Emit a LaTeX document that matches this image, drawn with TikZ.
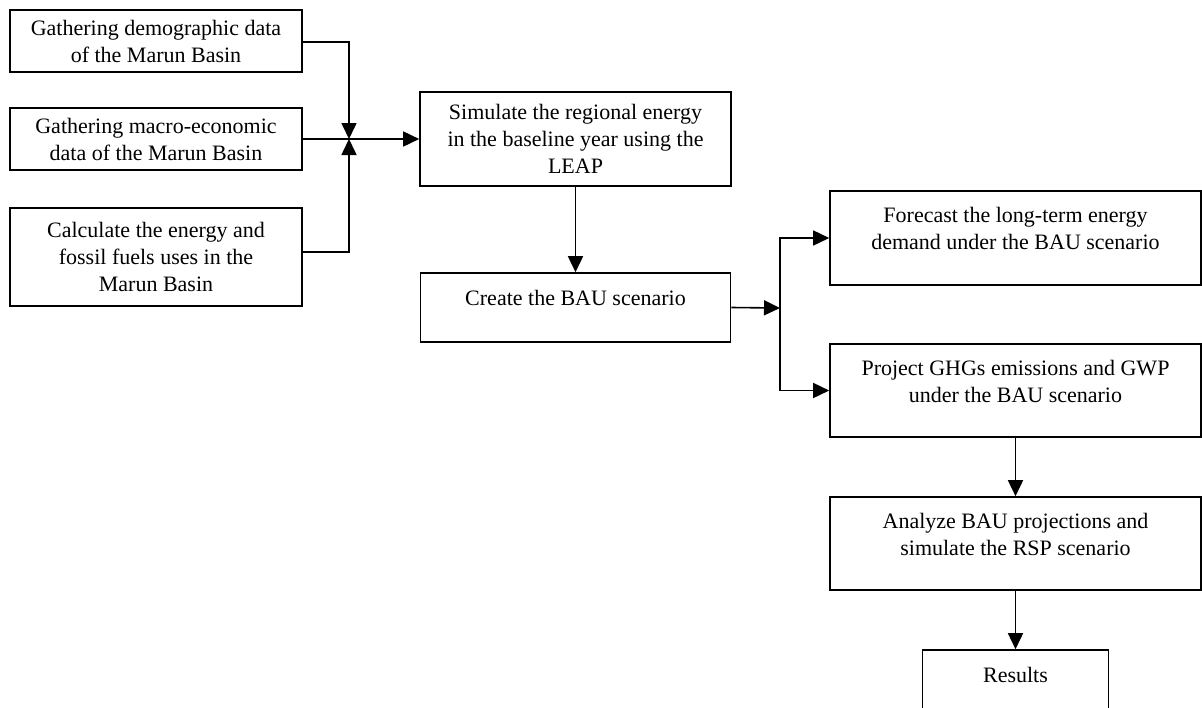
\documentclass[tikz,border=0pt]{standalone}
\usepackage{fontspec}
\setmainfont{Liberation Serif}
\usetikzlibrary{arrows.meta}
\newcommand{\liftup}[1]{\\[#1]\mbox{}}
\begin{document}
\begin{tikzpicture}[x=1pt,y=-1pt,
  box/.style={draw, line width=1.6pt, rectangle, align=center, inner sep=2pt,
    font=\fontsize{22}{27}\selectfont},
  conn/.style={line width=1.6pt},
  arr/.style={conn, -{Triangle[length=16pt,width=15pt]}}]
\useasboundingbox (0,0) rectangle (1202,707);
\clip (0,0) rectangle (1202,707);
\node[box, minimum width=292pt, minimum height=62pt] (A) at (156,41)
  {Gathering demographic data\\of the Marun Basin};
\node[box, minimum width=292pt, minimum height=62pt] (B) at (156,139)
  {Gathering macro-economic\\data of the Marun Basin};
\node[box, minimum width=292pt, minimum height=98pt] (C) at (156,257)
  {Calculate the energy and\\fossil fuels uses in the\\Marun Basin};
\node[box, minimum width=311pt, minimum height=94pt] (D) at (575.5,139)
  {Simulate the regional energy\\in the baseline year using the\\LEAP};
\node[box, minimum width=310pt, minimum height=69pt] (E) at (575.5,307.5)
  {Create the BAU scenario\liftup{-8pt}};
\node[box, minimum width=371pt, minimum height=94pt] (F) at (1015.5,238)
  {Forecast the long-term energy\\demand under the BAU scenario\liftup{-8pt}};
\node[box, minimum width=371pt, minimum height=93pt] (G) at (1015.5,390.5)
  {Project GHGs emissions and GWP\\under the BAU scenario\liftup{-8pt}};
\node[box, minimum width=371pt, minimum height=93pt] (H) at (1015.5,543.5)
  {Analyze BAU projections and\\simulate the RSP scenario\liftup{-8pt}};
\node[box, minimum width=186pt, minimum height=94pt] (R) at (1015.5,697)
  {Results\liftup{17pt}};
\coordinate (J) at (349,139);
\coordinate (K) at (780,308);
\draw[arr] ([yshift=-1pt]A.east) -| (J);
\draw[arr] ([yshift=5pt]C.east) -| (J);
\draw[arr] (B.east) -- (D.west);
\draw[arr] (D.south) -- (E.north);
\draw[arr] (E.east) -- (K);
\draw[arr] (K) |- (F.west);
\draw[arr] (K) |- (G.west);
\draw[arr] (G.south) -- (H.north);
\draw[arr] (H.south) -- (R.north);
\end{tikzpicture}
\end{document}
